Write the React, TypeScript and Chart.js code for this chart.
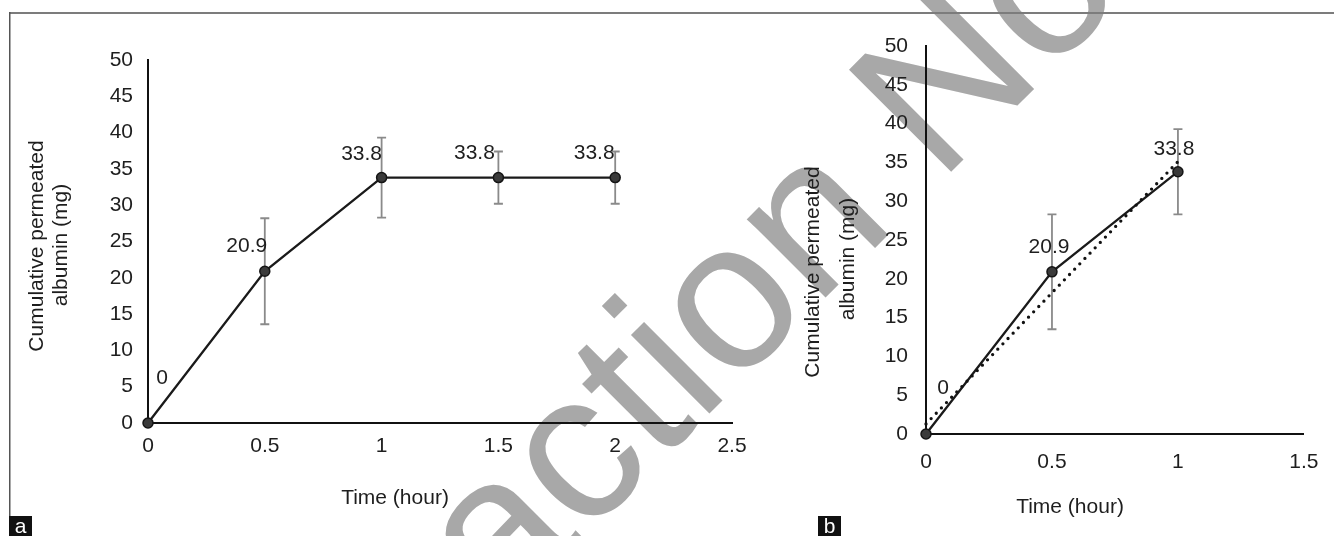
import React, { useEffect, useRef } from 'react';
import { Chart, registerables } from 'chart.js';

Chart.register(...registerables);

const FONT = '"Liberation Sans", Arial, Helvetica, sans-serif';
const TEXT_SIZE = 21;
const INK = '#1e1e1e';

// Panel a: permeation over the whole 2-hour run
const timeA = [0, 0.5, 1, 1.5, 2];
const albuminA = [0, 20.9, 33.8, 33.8, 33.8];
const sdA = [0, 7.3, 5.5, 3.6, 3.6];
const xTicksA = [0, 0.5, 1, 1.5, 2, 2.5];

// Panel b: first hour, with its linear trendline
const timeB = [0, 0.5, 1];
const albuminB = [0, 20.9, 33.8];
const sdB = [0, 7.4, 5.5];
const trendTimeB = [0, 1];
const trendB = [1.3, 35.1];
const xTicksB = [0, 0.5, 1, 1.5];

const yTicks = [0, 5, 10, 15, 20, 25, 30, 35, 40, 45, 50];

const yTitleLines = ['Cumulative permeated', 'albumin (mg)'];
const xTitle = 'Time (hour)';
const watermarkText = 'Retraction Notice';

type Area = { left: number; top: number; right: number; bottom: number };
type PanelLayout = {
  left: number;
  width: number;
  area: Area;
  xMax: number;
  yTickPad: number;
  xTickPad: number;
  yTitlePos: [number, number][];
  xTitlePos: [number, number];
  labelOffsets: [number, number][];
};

const PAGE_W = 1334;
const PAGE_H = 536;
const X_SCALE_H = 40;

const layoutA: PanelLayout = {
  left: 0,
  width: 790,
  area: { left: 148, top: 60, right: 732, bottom: 423 },
  xMax: 2.5,
  yTickPad: 15,
  xTickPad: 10.5,
  yTitlePos: [[37, 246], [61, 245]],
  xTitlePos: [395, 498],
  labelOffsets: [[14, -45], [-18, -25], [-20, -23], [-24, -24], [-21, -24]],
};

const layoutB: PanelLayout = {
  left: 790,
  width: 544,
  area: { left: 136, top: 46, right: 515, bottom: 434 },
  xMax: 1.5,
  yTickPad: 18,
  xTickPad: 15.5,
  yTitlePos: [[23, 272], [58, 259]],
  xTitlePos: [280, 507],
  labelOffsets: [[17, -46], [-3, -25], [-4, -23]],
};

type Series = {
  time: number[];
  values: number[];
  sd: number[];
  xTicks: number[];
  trendTime?: number[];
  trend?: number[];
};

function decorPlugin(layout: PanelLayout, series: Series) {
  return {
    id: 'panelDecor',
    beforeDatasetsDraw(chart: any) {
      // error bars (± SD) behind the line and markers
      const { ctx } = chart;
      const xs = chart.scales.x;
      const ys = chart.scales.y;
      ctx.save();
      ctx.strokeStyle = '#8a8a8a';
      ctx.lineWidth = 1.8;
      series.time.forEach((t, i) => {
        const e = series.sd[i];
        if (!e) return;
        const x = xs.getPixelForValue(t);
        const y1 = ys.getPixelForValue(series.values[i] + e);
        const y2 = ys.getPixelForValue(series.values[i] - e);
        ctx.beginPath();
        ctx.moveTo(x, y1);
        ctx.lineTo(x, y2);
        ctx.moveTo(x - 4.5, y1);
        ctx.lineTo(x + 4.5, y1);
        ctx.moveTo(x - 4.5, y2);
        ctx.lineTo(x + 4.5, y2);
        ctx.stroke();
      });
      ctx.restore();
    },
    afterDraw(chart: any) {
      const { ctx } = chart;
      const xs = chart.scales.x;
      const ys = chart.scales.y;
      ctx.save();
      ctx.fillStyle = INK;
      ctx.font = `${TEXT_SIZE}px ${FONT}`;
      ctx.textAlign = 'center';
      ctx.textBaseline = 'middle';

      // value labels
      series.time.forEach((t, i) => {
        const [dx, dy] = layout.labelOffsets[i];
        const x = xs.getPixelForValue(t);
        const y = ys.getPixelForValue(series.values[i]);
        ctx.fillText(String(series.values[i]), x + dx, y + dy);
      });

      // x axis title
      ctx.fillText(xTitle, layout.xTitlePos[0], layout.xTitlePos[1]);

      // y axis title, two rotated lines
      yTitleLines.forEach((line, k) => {
        const [cx, cy] = layout.yTitlePos[k];
        ctx.save();
        ctx.translate(cx, cy);
        ctx.rotate(-Math.PI / 2);
        ctx.fillText(line, 0, 0);
        ctx.restore();
      });
      ctx.restore();
    },
  };
}

function makeChart(canvas: HTMLCanvasElement, layout: PanelLayout, series: Series) {
  const { area, width } = layout;
  const tickFont = { family: FONT, size: TEXT_SIZE };

  const datasets: any[] = [];
  if (series.trendTime && series.trend) {
    datasets.push({
      label: 'Linear trend',
      data: series.trendTime.map((t, i) => ({ x: t, y: series.trend![i] })),
      borderColor: '#111111',
      borderWidth: 3.3,
      borderDash: [0, 7.4],
      borderCapStyle: 'round',
      pointRadius: 0,
      tension: 0,
      fill: false,
      clip: false,
    });
  }
  datasets.push({
    label: 'Cumulative permeated albumin',
    data: series.time.map((t, i) => ({ x: t, y: series.values[i] })),
    borderColor: '#1a1a1a',
    borderWidth: 2.3,
    pointRadius: 5,
    pointBorderWidth: 1.5,
    pointBackgroundColor: '#3a3a3a',
    pointBorderColor: '#151515',
    tension: 0,
    fill: false,
    clip: false,
  });

  return new Chart(canvas, {
    type: 'line',
    data: { datasets },
    options: {
      animation: false,
      responsive: false,
      maintainAspectRatio: false,
      layout: {
        padding: {
          left: 0,
          top: area.top,
          right: width - area.right,
          bottom: PAGE_H - area.bottom - X_SCALE_H,
        },
      },
      plugins: {
        legend: { display: false },
        tooltip: { enabled: false },
      },
      scales: {
        x: {
          type: 'linear',
          min: 0,
          max: layout.xMax,
          grid: { display: false, drawTicks: false },
          border: { display: true, color: '#111111', width: 2 },
          ticks: {
            font: tickFont,
            color: INK,
            padding: layout.xTickPad,
            maxRotation: 0,
            callback: (v: any) => String(Number(v)),
          },
          afterBuildTicks: (s: any) => {
            s.ticks = series.xTicks.map((v) => ({ value: v }));
          },
          afterFit: (s: any) => {
            s.height = X_SCALE_H;
          },
        },
        y: {
          type: 'linear',
          min: 0,
          max: 50,
          grid: { display: false, drawTicks: false },
          border: { display: true, color: '#111111', width: 2 },
          ticks: {
            font: tickFont,
            color: INK,
            padding: layout.yTickPad,
            callback: (v: any) => String(Number(v)),
          },
          afterBuildTicks: (s: any) => {
            s.ticks = yTicks.map((v) => ({ value: v }));
          },
          afterFit: (s: any) => {
            s.width = area.left;
          },
        },
      },
    } as any,
    plugins: [decorPlugin(layout, series)],
  });
}

function drawBackdrop(canvas: HTMLCanvasElement) {
  const ctx = canvas.getContext('2d');
  if (!ctx) return;
  ctx.clearRect(0, 0, PAGE_W, PAGE_H);
  ctx.fillStyle = '#ffffff';
  ctx.fillRect(0, 0, PAGE_W, PAGE_H);

  // diagonal watermark
  ctx.save();
  ctx.translate(221, 902);
  ctx.rotate(-Math.PI / 4);
  ctx.fillStyle = '#a8a8a8';
  ctx.font = `210px ${FONT}`;
  ctx.textAlign = 'left';
  ctx.textBaseline = 'alphabetic';
  ctx.fillText(watermarkText, 0, 0);
  ctx.restore();

  // figure frame
  ctx.fillStyle = '#7c7c7c';
  ctx.fillRect(9, 12, PAGE_W - 9, 2);
  ctx.fillStyle = '#555555';
  ctx.fillRect(9, 12, 1.5, PAGE_H - 12);

  // panel letters
  const letters: [string, number][] = [['a', 9], ['b', 818]];
  letters.forEach(([ch, x]) => {
    ctx.fillStyle = '#111111';
    ctx.fillRect(x, 516, 23, 20);
    ctx.fillStyle = '#ffffff';
    ctx.font = `21px ${FONT}`;
    ctx.textAlign = 'center';
    ctx.textBaseline = 'alphabetic';
    ctx.fillText(ch, x + 11.5, 533);
  });
}

export default function App() {
  const bgRef = useRef<HTMLCanvasElement>(null);
  const aRef = useRef<HTMLCanvasElement>(null);
  const bRef = useRef<HTMLCanvasElement>(null);

  useEffect(() => {
    if (bgRef.current) drawBackdrop(bgRef.current);
    const chartA = makeChart(aRef.current!, layoutA, {
      time: timeA,
      values: albuminA,
      sd: sdA,
      xTicks: xTicksA,
    });
    const chartB = makeChart(bRef.current!, layoutB, {
      time: timeB,
      values: albuminB,
      sd: sdB,
      xTicks: xTicksB,
      trendTime: trendTimeB,
      trend: trendB,
    });
    return () => {
      chartA.destroy();
      chartB.destroy();
    };
  }, []);

  return (
    <div
      style={{
        position: 'absolute',
        left: 0,
        top: 0,
        width: PAGE_W,
        height: PAGE_H,
        overflow: 'hidden',
        background: '#ffffff',
      }}
    >
      <canvas ref={bgRef} width={PAGE_W} height={PAGE_H} style={{ position: 'absolute', left: 0, top: 0 }} />
      <canvas
        ref={aRef}
        width={layoutA.width}
        height={PAGE_H}
        style={{ position: 'absolute', left: layoutA.left, top: 0, width: layoutA.width, height: PAGE_H }}
      />
      <canvas
        ref={bRef}
        width={layoutB.width}
        height={PAGE_H}
        style={{ position: 'absolute', left: layoutB.left, top: 0, width: layoutB.width, height: PAGE_H }}
      />
    </div>
  );
}
